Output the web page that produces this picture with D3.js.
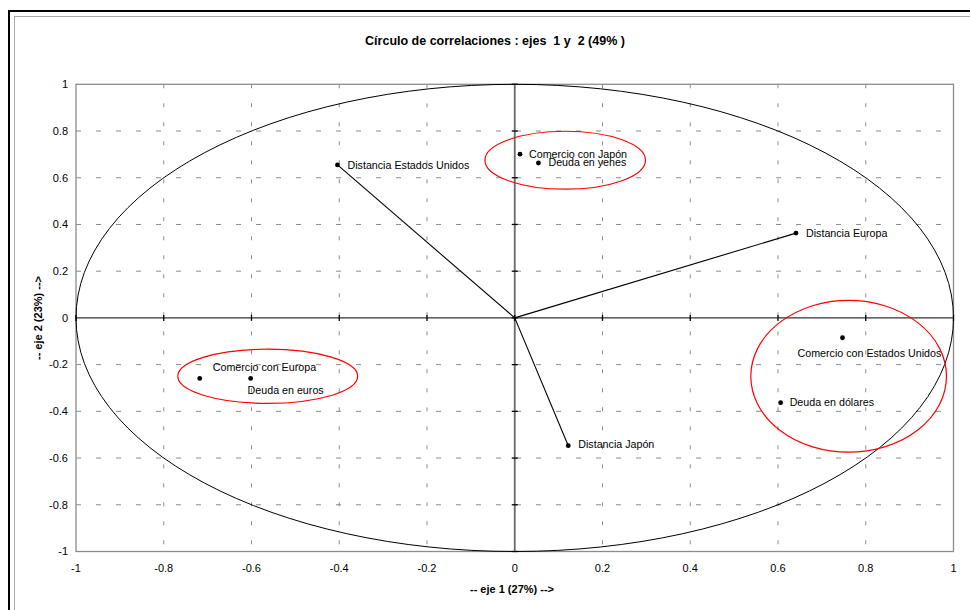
<!DOCTYPE html>
<html><head><meta charset="utf-8">
<script src="https://cdn.jsdelivr.net/npm/d3@7"></script>
<style>body{margin:0;background:#fff;} svg{display:block;font-family:"Liberation Sans",Arial,sans-serif;} .pre{white-space:pre;}</style>
</head><body>
<svg id="chart" width="970" height="610"></svg>
<script>
// ---- data ----
const variables = ["Distancia Estados Unidos","Comercio con Japón","Deuda en yenes","Distancia Europa","Comercio con Estados Unidos","Deuda en dólares","Distancia Japón","Comercio con Europa","Deuda en euros"];
const eje1 = [-0.404, 0.012, 0.054, 0.641, 0.747, 0.606, 0.122, -0.718, -0.602];
const eje2 = [0.655, 0.701, 0.663, 0.363, -0.085, -0.363, -0.547, -0.259, -0.259];
const vectors = ["Distancia Estados Unidos","Distancia Europa","Distancia Japón"];
const xTicks = [-1,-0.8,-0.6,-0.4,-0.2,0,0.2,0.4,0.6,0.8,1];
const yTicks = [-1,-0.8,-0.6,-0.4,-0.2,0,0.2,0.4,0.6,0.8,1];
// groups highlighted by red ellipses (centre / radii in data units)
const groupCx = [0.115, -0.563, 0.761];
const groupCy = [0.675, -0.250, -0.250];
const groupRx = [0.183, 0.205, 0.223];
const groupRy = [0.124, 0.116, 0.325];
const title = "Círculo de correlaciones : ejes  1 y  2 (49% )";
const xTitle = "-- eje 1 (27%) -->";
const yTitle = "-- eje 2 (23%) -->";

// label placement (pixel offsets from the point)
const labelOffset = {
  "Distancia Estados Unidos":[10,0],"Comercio con Japón":[9,0],"Deuda en yenes":[10,-1],
  "Distancia Europa":[10,0],"Comercio con Estados Unidos":[-45,15],"Deuda en dólares":[9,0],
  "Distancia Japón":[10,-1],"Comercio con Europa":[13,-11],"Deuda en euros":[-3,12]
};

const svg = d3.select("#chart");
// frames
svg.append("rect").attr("x",9).attr("y",11).attr("width",1000).attr("height",700)
  .attr("fill","none").attr("stroke","#000").attr("stroke-width",2);
svg.append("rect").attr("x",14.5).attr("y",16.5).attr("width",1000).attr("height",700)
  .attr("fill","none").attr("stroke","#a8a8a8").attr("stroke-width",1);

const x = d3.scaleLinear().domain([-1,1]).range([76,953.5]);
const y = d3.scaleLinear().domain([-1,1]).range([551.5,84.3]);

// grid
const g = svg.append("g");
g.selectAll(".hg").data(yTicks.filter(d=>d!==0 && Math.abs(d)!==1)).enter().append("line")
  .attr("x1",x(-1)).attr("x2",x(1)).attr("y1",d=>y(d)).attr("y2",d=>y(d))
  .attr("stroke","#8c8c8c").attr("stroke-width",1).attr("stroke-dasharray","5,15");
g.selectAll(".vg").data(xTicks.filter(d=>d!==0 && Math.abs(d)!==1)).enter().append("line")
  .attr("y1",y(1)).attr("y2",y(-1)).attr("x1",d=>x(d)).attr("x2",d=>x(d))
  .attr("stroke","#8c8c8c").attr("stroke-width",1).attr("stroke-dasharray","4,15");
// plot border
g.append("rect").attr("x",x(-1)).attr("y",y(1)).attr("width",x(1)-x(-1)).attr("height",y(-1)-y(1))
  .attr("fill","none").attr("stroke","#8c8c8c").attr("stroke-width",1.3);

// zero axes
g.append("line").attr("x1",x(0)).attr("x2",x(0)).attr("y1",y(1)).attr("y2",y(-1))
  .attr("stroke","#6a6a6a").attr("stroke-width",1.8);
g.append("line").attr("x1",x(-1)).attr("x2",x(1)).attr("y1",y(0)).attr("y2",y(0))
  .attr("stroke","#333").attr("stroke-width",1.3);
g.selectAll(".yt").data(yTicks).enter().append("line")
  .attr("x1",x(0)-3).attr("x2",x(0)+3).attr("y1",d=>y(d)).attr("y2",d=>y(d))
  .attr("stroke","#000").attr("stroke-width",1.3);
g.selectAll(".xt").data(xTicks).enter().append("line")
  .attr("y1",y(0)-3).attr("y2",y(0)+3).attr("x1",d=>x(d)).attr("x2",d=>x(d))
  .attr("stroke","#000").attr("stroke-width",1.3);

// unit circle
g.append("ellipse").attr("cx",x(0)).attr("cy",y(0))
  .attr("rx",x(1)-x(0)).attr("ry",y(0)-y(1))
  .attr("fill","none").attr("stroke","#000").attr("stroke-width",1);

// tick labels
svg.append("g").selectAll("text").data(yTicks).enter().append("text")
  .attr("x",68).attr("y",d=>y(d)).attr("dy","0.35em").attr("text-anchor","end")
  .attr("font-size",11).text(d=>String(d));
svg.append("g").selectAll("text").data(xTicks).enter().append("text")
  .attr("x",d=>x(d)).attr("y",568).attr("dy","0.35em").attr("text-anchor","middle")
  .attr("font-size",11).text(d=>String(d));

// vectors
const data = variables.map((n,i)=>({name:n,a:eje1[i],b:eje2[i]}));
g.selectAll(".vec").data(data.filter(d=>vectors.includes(d.name))).enter().append("line")
  .attr("x1",x(0)).attr("y1",y(0)).attr("x2",d=>x(d.a)).attr("y2",d=>y(d.b))
  .attr("stroke","#000").attr("stroke-width",1.1);

// points
g.selectAll(".pt").data(data).enter().append("circle")
  .attr("cx",d=>x(d.a)).attr("cy",d=>y(d.b)).attr("r",2.4).attr("fill","#000");
g.selectAll(".lb").data(data).enter().append("text")
  .attr("x",d=>x(d.a)+labelOffset[d.name][0]).attr("y",d=>y(d.b)+labelOffset[d.name][1])
  .attr("dy","0.35em").attr("font-size",10.7).attr("fill","#000").text(d=>d.name);

// red group ellipses
g.selectAll(".grp").data(groupCx).enter().append("ellipse")
  .attr("cx",(d,i)=>x(d)).attr("cy",(d,i)=>y(groupCy[i]))
  .attr("rx",(d,i)=>x(groupRx[i])-x(0)).attr("ry",(d,i)=>y(0)-y(groupRy[i]))
  .attr("fill","none").attr("stroke","#ff0000").attr("stroke-width",1.2);

// titles
svg.append("text").attr("class","pre").attr("x",495).attr("y",41).attr("dy","0.35em").attr("text-anchor","middle")
  .attr("font-size",12.5).attr("font-weight","bold").text(title);
svg.append("text").attr("x",512).attr("y",589).attr("dy","0.35em").attr("text-anchor","middle")
  .attr("font-size",11).attr("font-weight","bold").text(xTitle);
svg.append("text").attr("transform","translate(38,318) rotate(-90)").attr("dy","0.35em")
  .attr("text-anchor","middle").attr("font-size",11).attr("font-weight","bold").text(yTitle);
</script>
</body></html>
